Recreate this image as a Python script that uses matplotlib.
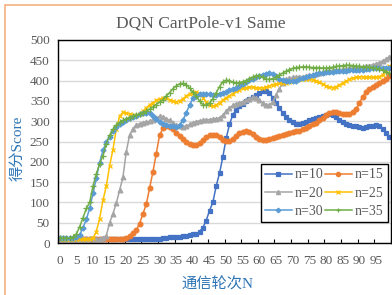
import matplotlib
matplotlib.use("Agg")
import matplotlib.pyplot as plt
from matplotlib.patches import Rectangle
import numpy as np

rounds = list(range(100))

s10 = [9]*26 + [9, 10, 10, 10, 11, 12, 13, 14, 15, 16, 16, 17,
       17, 19, 21, 23, 28, 38, 55, 80, 100, 140, 172, 212, 258, 292, 316, 328,
       337, 343, 349, 354, 359, 364, 370, 374, 375, 370, 358, 345, 333, 320, 310, 302,
       297, 294, 294, 296, 299, 302, 305, 308, 311, 313, 315, 317, 316, 310, 303, 298,
       294, 291, 289, 287, 285, 284, 285, 287, 289, 290, 287, 280, 272, 262]
s15 = [9]*19 + [11, 13, 17, 24, 32, 48, 72, 95, 135, 175, 220, 265, 283, 288,
       286, 280, 272, 264, 256, 249, 244, 241, 242, 246, 253, 260, 265, 267, 265, 260,
       254, 251, 252, 257, 264, 270, 274, 275, 273, 268, 262, 256, 253, 253, 255, 258,
       261, 264, 267, 269, 271, 273, 275, 277, 280, 284, 288, 292, 296, 302, 309, 315,
       320, 323, 323, 321, 318, 317, 318, 322, 330, 345, 360, 372, 380, 385, 390, 394,
       398, 404, 412]
s20 = [10]*12 + [11, 12, 18, 50, 72, 98, 130, 162, 225, 265, 282, 290, 294, 296,
       298, 300, 303, 308, 312, 310, 306, 302, 296, 290, 287, 286, 288, 292, 296, 299,
       301, 302, 303, 304, 305, 306, 309, 315, 324, 333, 339, 343, 346, 348, 351, 355,
       359, 358, 352, 345, 340, 339, 348, 365, 380, 395, 403, 406, 408, 409, 410, 410,
       411, 413, 415, 417, 419, 421, 423, 424, 425, 426, 427, 428, 429, 430, 431, 432,
       433, 434, 436, 437, 439, 441, 444, 448, 453, 458]
s25 = [10]*10 + [12, 28, 60, 105, 140, 190, 230, 280, 312, 322, 320, 318, 316, 314,
       318, 325, 333, 340, 346, 351, 355, 357, 356, 353, 350, 348, 350, 355, 362, 367,
       370, 372, 368, 358, 348, 340, 337, 340, 346, 352, 358, 363, 368, 374, 378, 381,
       383, 384, 384, 383, 382, 382, 384, 387, 390, 392, 393, 394, 395, 396, 398, 401,
       404, 405, 405, 404, 402, 400, 396, 391, 387, 384, 383, 385, 389, 394, 399, 403,
       406, 408, 409, 409, 409, 408, 408, 409, 410, 414, 425, 435]
s30 = [12]*4 + [12, 14, 20, 38, 58, 85, 122, 160, 198, 228, 248, 262, 275, 285,
       293, 299, 304, 308, 311, 314, 317, 319, 320, 319, 314, 306, 299, 294, 291, 289,
       287, 286, 290, 302, 320, 340, 356, 363, 366, 367, 367, 366, 365, 365, 367, 370,
       373, 376, 379, 383, 387, 391, 396, 401, 405, 409, 412, 415, 417, 418, 416, 411,
       405, 401, 399, 398, 398, 400, 403, 406, 409, 412, 414, 416, 418, 419, 420, 421,
       422, 423, 424, 424, 424, 425, 425, 426, 426, 427, 428, 429, 430, 430, 430, 430,
       430, 430]
s35 = [12]*3 + [12, 15, 22, 40, 62, 85, 100, 140, 170, 195, 215, 245, 265, 280,
       290, 297, 302, 306, 309, 312, 315, 318, 320, 325, 330, 335, 341, 347, 353, 362,
       370, 380, 387, 392, 393, 390, 382, 372, 362, 350, 341, 339, 345, 355, 370, 385,
       397, 401, 400, 396, 394, 395, 397, 400, 405, 409, 412, 412, 408, 403, 403, 405,
       409, 414, 419, 423, 427, 430, 432, 433, 434, 434, 433, 432, 432, 432, 431, 431,
       432, 433, 435, 436, 437, 438, 438, 437, 436, 435, 434, 434, 433, 432, 430, 428,
       425, 421, 418]

labels = ["n=10", "n=15", "n=20", "n=25", "n=30", "n=35"]
series = [s10, s15, s20, s25, s30, s35]
colors = ["#4472C4", "#ED7D31", "#A5A5A5", "#FFC000", "#5B9BD5", "#70AD47"]
markers = ["s", "o", "^", "x", "D", "+"]
msizes = [3.4, 3.4, 3.4, 3.4, 2.6, 3.8]

title = "DQN CartPole-v1 Same"
xlabel = "通信轮次N"
ylabel = "得分Score"

serif = ["Liberation Serif", "DejaVu Serif"]
mixed = ["Liberation Serif", "Noto Sans CJK SC", "DejaVu Sans"]

fig = plt.figure(figsize=(3.92, 2.95), dpi=100)
fig.patch.set_facecolor("white")
ax = fig.add_axes([58/392, 1 - 243/295, 333/392, 203/295])

handles = []
for lab, s, c, m, ms in zip(labels, series, colors, markers, msizes):
    h, = ax.plot(rounds, s, color=c, marker=m, markersize=ms, linewidth=1.1,
                 markeredgecolor=c, markerfacecolor=c, markeredgewidth=0.9, label=lab)
    handles.append(h)

ax.set_xlim(-0.5, 99.5)
ax.set_ylim(0, 500)
ax.set_yticks(range(0, 501, 50))
ax.set_xticks(range(0, 100, 5))
ax.set_xticks(np.arange(-0.5, 100, 5), minor=True)
ax.tick_params(axis="x", which="major", length=0, pad=9, labelsize=9.5, labelcolor="#595959")
ax.tick_params(axis="x", which="minor", length=3, direction="in", width=0.8, color="black")
ax.tick_params(axis="y", length=0, pad=6, labelsize=9.5, labelcolor="#595959")
for lab in ax.get_xticklabels() + ax.get_yticklabels():
    lab.set_fontfamily(serif)
ax.yaxis.grid(True, color="#D9D9D9", linewidth=1.0)
ax.set_axisbelow(True)
for sp in ax.spines.values():
    sp.set_color("black")
    sp.set_linewidth(1.0)

fig.text(201/392, 1 - 24/295, title, fontfamily=serif, fontsize=12.5, color="#595959",
         ha="center", va="center")
fig.text(217/392, 1 - 284/295, xlabel, fontfamily=mixed, fontsize=11, color="#2E75B6",
         ha="center", va="center")
fig.text(18/392, 1 - 148.5/295, ylabel, fontfamily=mixed, fontsize=11, color="#2E75B6",
         ha="center", va="center", rotation=90)

order = [0, 2, 4, 1, 3, 5]
leg = ax.legend([handles[i] for i in order], [labels[i] for i in order],
                ncol=2, loc="lower right", bbox_to_anchor=(0.991, 0.103),
                prop={"family": serif, "size": 10}, frameon=True, fancybox=False,
                edgecolor="black", framealpha=1, handlelength=1.9, handletextpad=0.25,
                columnspacing=0.1, borderpad=0.3, labelspacing=0.38, markerscale=0.9,
                borderaxespad=0)
leg.get_frame().set_linewidth(1.0)
for t in leg.get_texts():
    t.set_color("#595959")

fig.patches.append(Rectangle((5/392, -0.05), 1.1, 1 - 5/295 + 0.05,
                             transform=fig.transFigure, fill=False,
                             edgecolor="#F4B183", linewidth=1.2))

fig.savefig("out.png", dpi=100)
